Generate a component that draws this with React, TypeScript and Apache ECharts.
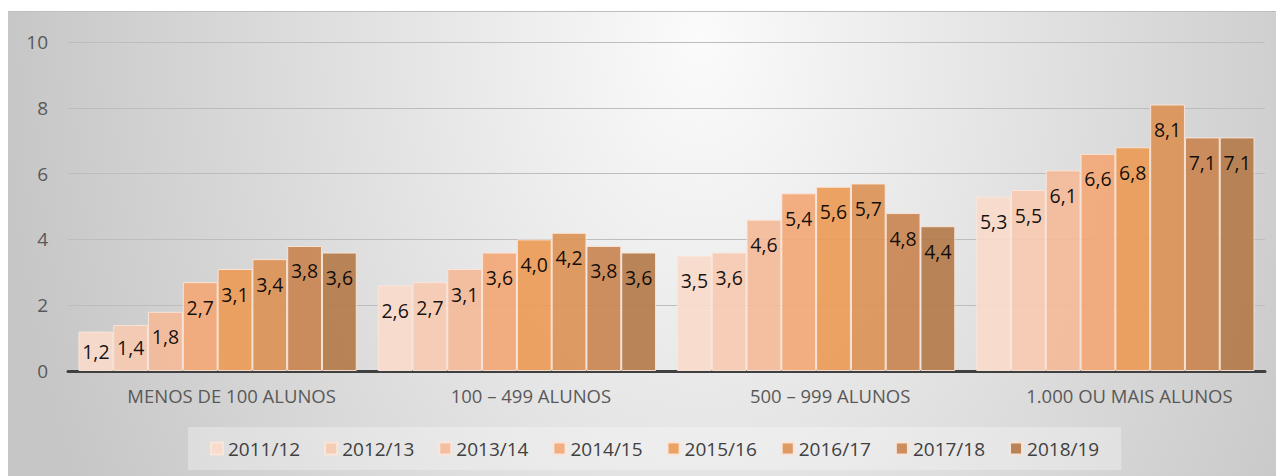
import React, { useEffect, useRef } from "react";
import * as echarts from "echarts";

const categories = ["MENOS DE 100 ALUNOS", "100 – 499 ALUNOS", "500 – 999 ALUNOS", "1.000 OU MAIS ALUNOS"];
const seriesNames = ["2011/12", "2012/13", "2013/14", "2014/15", "2015/16", "2016/17", "2017/18", "2018/19"];
const s2011 = [1.2, 2.6, 3.5, 5.3];
const s2012 = [1.4, 2.7, 3.6, 5.5];
const s2013 = [1.8, 3.1, 4.6, 6.1];
const s2014 = [2.7, 3.6, 5.4, 6.6];
const s2015 = [3.1, 4.0, 5.6, 6.8];
const s2016 = [3.4, 4.2, 5.7, 8.1];
const s2017 = [3.8, 3.8, 4.8, 7.1];
const s2018 = [3.6, 3.6, 4.4, 7.1];
const seriesValues = [s2011, s2012, s2013, s2014, s2015, s2016, s2017, s2018];
const colors = ["#f8dacb", "#f6cbb3", "#f4bb9a", "#f2a876", "#eb9b56", "#dc9257", "#c98652", "#b47b4b"];
const yTicks = { min: 0, max: 10, interval: 2 };

const FONT = "'Open Sans', sans-serif";

export default function App() {
  const ref = useRef<HTMLDivElement>(null);
  useEffect(() => {
    document.body.style.overflow = "hidden";
    document.documentElement.style.overflow = "hidden";
    const chart = echarts.init(ref.current!, null, { renderer: "svg" });
    chart.setOption({
      animation: false,
      backgroundColor: "transparent",
      textStyle: { fontFamily: FONT },
      grid: { left: 60, right: 11, top: 30, height: 329, containLabel: false },
      legend: {
        data: seriesNames,
        left: 180,
        top: 415,
        padding: [12, 22],
        backgroundColor: "rgba(255,255,255,0.3)",
        itemGap: 24,
        itemWidth: 12,
        itemHeight: 12,
        icon: "rect",
        textStyle: { fontSize: 19, color: "#404040", fontFamily: FONT },
      },
      xAxis: {
        type: "category",
        data: categories,
        axisLine: { lineStyle: { color: "#404040", width: 3 } },
        axisTick: { show: false },
        axisLabel: {
          fontSize: 18.5,
          color: "#595959",
          margin: 15,
          fontFamily: FONT,
          padding: [0, 0, 0, 28],
        },
      },
      yAxis: {
        type: "value",
        min: yTicks.min,
        max: yTicks.max,
        interval: yTicks.interval,
        axisLine: { show: false },
        axisTick: { show: false },
        axisLabel: { fontSize: 19, color: "#595959", margin: 20, fontFamily: FONT },
        splitLine: { lineStyle: { color: "#bdbdbd", width: 1 } },
      },
      series: seriesNames.map((name, i) => ({
        name,
        type: "bar",
        barGap: "0%",
        barCategoryGap: "7%",
        data: seriesValues[i].map((v) => (v < 1.6 ? { value: v, label: { position: "inside" } } : v)),
        itemStyle: { color: colors[i], opacity: 0.92, borderColor: "#fbe6da", borderWidth: 1 },
        label: {
          show: true,
          position: "insideTop",
          distance: 15,
          fontSize: 19.5,
          color: "#000",
          fontFamily: FONT,
          formatter: (p: any) => Number(p.value).toFixed(1).replace(".", ","),
        },
      })),
    });
    return () => chart.dispose();
  }, []);
  return (
    <div
      ref={ref}
      style={{
        position: "absolute",
        left: 8,
        top: 11,
        width: 1268,
        height: 465,
        boxSizing: "border-box",
        borderTop: "1px solid #bdbdbd",
        background: "radial-gradient(ellipse 700px 1000px at 692px 28px, #fbfbfb 0%, #c6c6c6 100%)",
      }}
    />
  );
}
